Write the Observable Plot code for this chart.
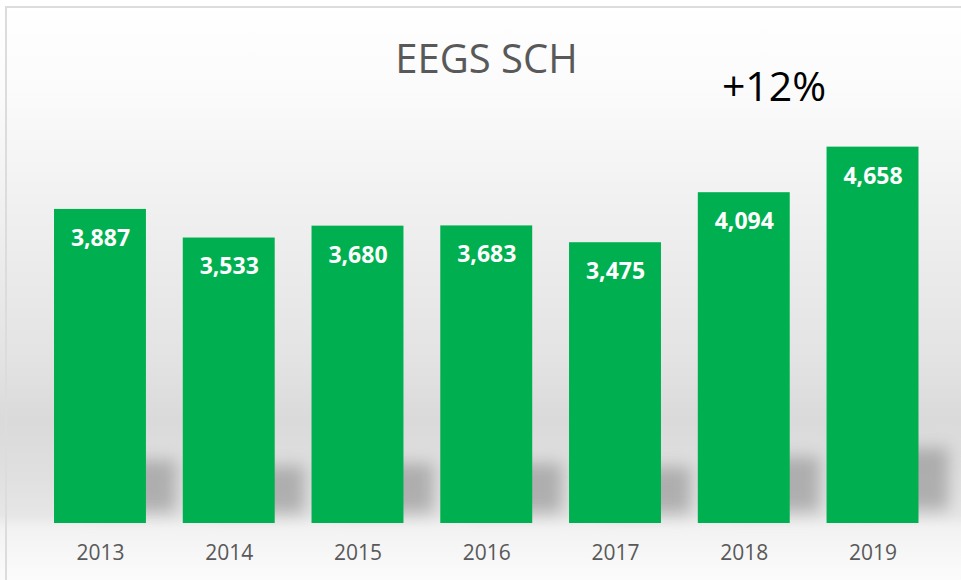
<!DOCTYPE html>
<html>
<head>
<meta charset="utf-8">
<script src="https://cdn.jsdelivr.net/npm/d3@7"></script>
<script src="https://cdn.jsdelivr.net/npm/@observablehq/plot@0.6"></script>
<style>
  html, body { margin: 0; padding: 0; }
  #wrap {
    position: relative; width: 961px; height: 580px; overflow: hidden;
    background: linear-gradient(to bottom, #ffffff 0px, #fbfbfb 90px, #f0f0f0 210px, #e3e3e3 360px, #dadada 420px, #dfdfdf 470px, #e6e6e6 515px, #f2f2f2 528px, #f7f7f7 555px, #fbfbfb 580px);
    font-family: "Open Sans", sans-serif;
  }
  #frame {
    position: absolute; left: 5px; top: 6px; width: 1000px; height: 600px;
    border: 2px solid #dcdcdc; box-sizing: border-box;
  }
  #title {
    position: absolute; left: 0; width: 973px; top: 38px; text-align: center;
    font-size: 40px; color: #595959; line-height: 1;
  }
  #note {
    position: absolute; left: 674px; width: 200px; top: 65px; text-align: center;
    font-size: 41px; color: #000; line-height: 1;
  }
  #chart { position: absolute; left: 0; top: 0; }
</style>
</head>
<body>
<div id="wrap">
  <div id="frame"></div>
  <div id="chart"></div>
  <div id="title"></div>
  <div id="note"></div>
</div>
<script>
const title = "EEGS SCH";
const note = "+12%";
const years = ["2013", "2014", "2015", "2016", "2017", "2018", "2019"];
const values = [3887, 3533, 3680, 3683, 3475, 4094, 4658];
const yMax = 5000;

const data = years.map((y, i) => ({year: y, value: values[i]}));

document.getElementById("title").textContent = title;
document.getElementById("note").textContent = note;

const plot = Plot.plot({
  width: 961,
  height: 580,
  marginLeft: 35.6,
  marginRight: 24.1,
  marginTop: 119,
  marginBottom: 57,
  style: {background: "transparent", fontFamily: "Open Sans, sans-serif", overflow: "visible"},
  x: {domain: years, paddingInner: 0.286, paddingOuter: 0.143, round: false, label: null},
  y: {domain: [0, yMax], axis: null},
  marks: [
    Plot.rectY(data, {x: "year", y1: d => d.value * 0.035, y2: d => d.value * 0.2, dx: 30, fill: "#8c8c8c", fillOpacity: 0.6, className: "shadow"}),
    Plot.barY(data, {x: "year", y: "value", fill: "#00B050"}),
    Plot.text(data, {x: "year", y: "value", text: d => d3.format(",")(d.value), dy: 29, lineAnchor: "middle", fill: "white", fontWeight: "bold", fontSize: 23}),
    Plot.axisX({tickSize: 0, tickPadding: 22, fontSize: 21, color: "#595959", label: null})
  ]
});
const sh = plot.querySelector(".shadow");
if (sh) sh.style.filter = "blur(8px)";
document.getElementById("chart").appendChild(plot);
</script>
</body>
</html>
